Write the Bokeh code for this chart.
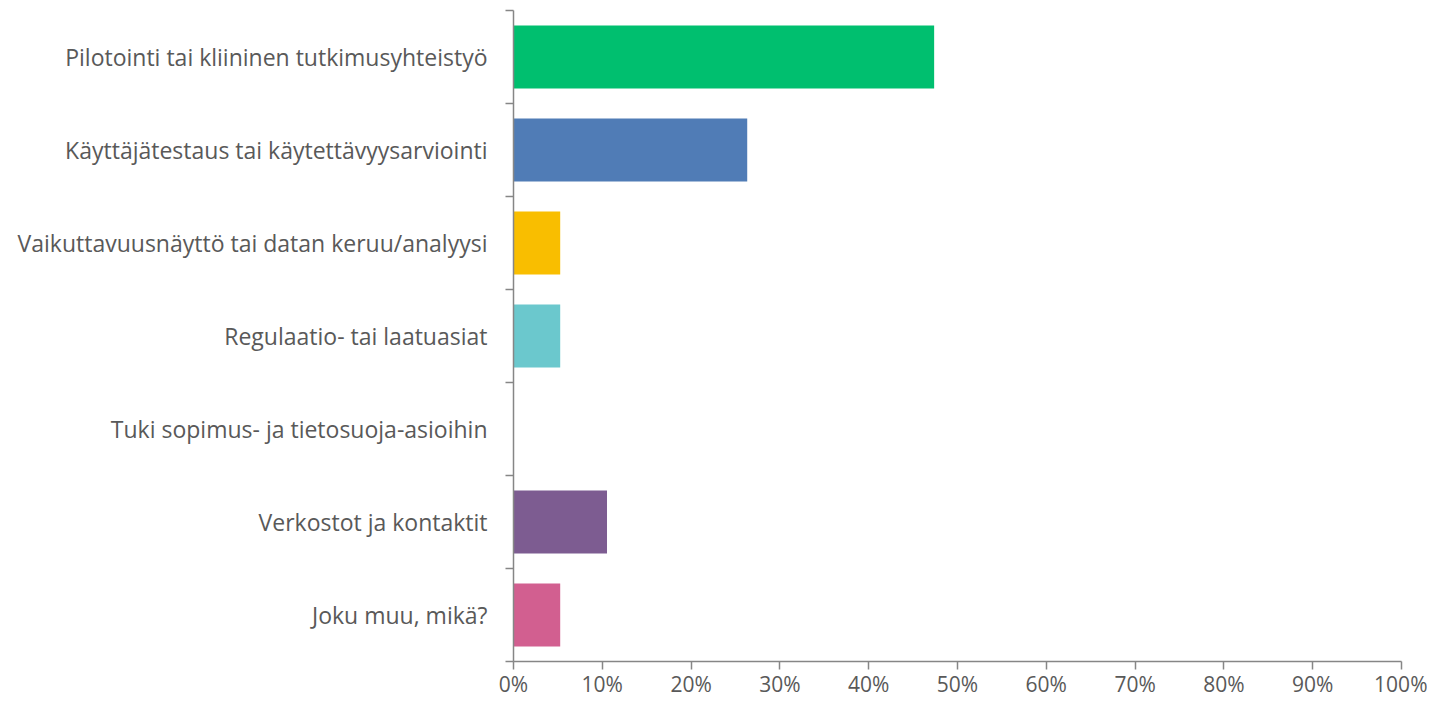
from bokeh.plotting import figure
from bokeh.models import Range1d, FixedTicker, NumeralTickFormatter, ColumnDataSource
from bokeh.embed import file_html
from bokeh.resources import INLINE

categories = [
    "Pilotointi tai kliininen tutkimusyhteistyö",
    "Käyttäjätestaus tai käytettävyysarviointi",
    "Vaikuttavuusnäyttö tai datan keruu/analyysi",
    "Regulaatio- tai laatuasiat",
    "Tuki sopimus- ja tietosuoja-asioihin",
    "Verkostot ja kontaktit",
    "Joku muu, mikä?",
]
values = [0.4737, 0.2632, 0.0526, 0.0526, 0.0, 0.1053, 0.0526]
colors = ["#00BF6F", "#507CB6", "#F9BE00", "#6BC8CD", "#A0A0A0", "#7D5C91", "#D25F90"]

n = len(categories)
ypos = [n - 0.5 - i for i in range(n)]
src = ColumnDataSource(dict(y=ypos, v=values, c=colors, cat=categories))

FONT = "Open Sans"
TXT = "#595959"
AX = "#868686"

p = figure(width=1427, height=700, output_backend="svg", toolbar_location=None,
           x_range=Range1d(0, 1), y_range=Range1d(0, n),
           min_border_left=513, min_border_right=26, min_border_top=10, min_border_bottom=38)
p.outline_line_color = None
p.grid.visible = False

p.hbar(y="y", right="v", left=0, height=0.68, color="c", source=src, line_color=None)

# x axis
p.xaxis.ticker = FixedTicker(ticks=[i / 10 for i in range(11)])
p.xaxis.formatter = NumeralTickFormatter(format="0%")
p.xaxis.axis_line_color = AX
p.xaxis.axis_line_width = 1.5
p.xaxis.major_tick_line_color = AX
p.xaxis.major_tick_line_width = 1.5
p.xaxis.major_tick_out = 8
p.xaxis.major_tick_in = 0
p.xaxis.minor_tick_line_color = None
p.xaxis.major_label_text_font = FONT
p.xaxis.major_label_text_font_size = "21px"
p.xaxis.major_label_text_color = TXT
p.xaxis.major_label_standoff = 0

# y axis: labels at band centres, tick marks at band boundaries
p.yaxis.ticker = FixedTicker(ticks=ypos, minor_ticks=list(range(n + 1)))
p.yaxis.major_label_overrides = {y: c for y, c in zip(ypos, categories)}
p.yaxis.axis_line_color = AX
p.yaxis.axis_line_width = 1.5
p.yaxis.major_tick_line_color = None
p.yaxis.major_tick_out = 0
p.yaxis.major_tick_in = 0
p.yaxis.minor_tick_line_color = AX
p.yaxis.minor_tick_line_width = 1.5
p.yaxis.minor_tick_out = 8
p.yaxis.minor_tick_in = 0
p.yaxis.major_label_text_font = FONT
p.yaxis.major_label_text_font_size = "23px"
p.yaxis.major_label_text_color = TXT
p.yaxis.major_label_standoff = 18

open("out.html", "w").write(file_html(p, INLINE))
